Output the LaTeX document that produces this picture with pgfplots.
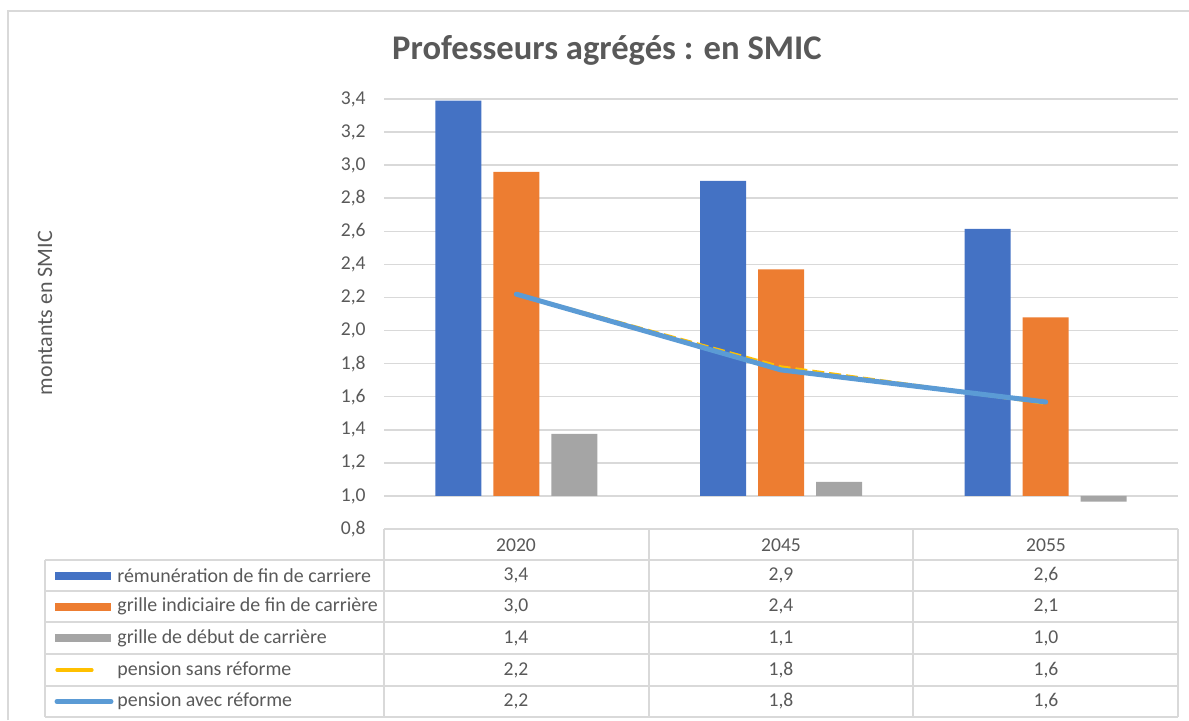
\documentclass[border=0pt]{standalone}
\usepackage{fontspec}
\setmainfont{Carlito}
\usepackage{pgfplots}
\usepackage{pgfplotstable}
\pgfplotsset{compat=1.18}
\definecolor{cblue}{HTML}{4472C4}
\definecolor{corange}{HTML}{ED7D31}
\definecolor{cgray}{HTML}{A5A5A5}
\definecolor{cyellow}{HTML}{FFC000}
\definecolor{clblue}{HTML}{5B9BD5}
\definecolor{txt}{HTML}{595959}
\definecolor{gridc}{HTML}{D9D9D9}

% values in SMIC, years 2020 / 2045 / 2055
\pgfplotstableread{
x rem grille debut sans avec
0 3.39 2.96 1.375 2.22 2.22
1 2.905 2.37 1.085 1.78 1.762
2 2.614 2.08 0.966 1.56 1.568
}\data

\newcommand\cell[2]{\pgfplotstablegetelem{#1}{#2}\of\data\pgfmathprintnumber[fixed,precision=1,fixed zerofill,use comma,assume math mode=true]{\pgfplotsretval}}
\newcommand\tfont{\fontsize{9.8}{12}\selectfont}
\newcommand\lfont{\fontsize{9.95}{12}\selectfont}

\begin{document}
\begin{tikzpicture}
\begin{axis}[at={(192pt,95.5pt)},anchor=south west,scale only axis,width=397pt,height=215pt,
  xmin=-0.5,xmax=2.5,ymin=-0.2,ymax=2.4,
  y filter/.expression={y-1},
  xtick=\empty,ytick={-0.2,0,0.2,0.4,0.6,0.8,1.0,1.2,1.4,1.6,1.8,2.0,2.2,2.4},
  yticklabel={\pgfmathparse{\tick+1}\pgfmathprintnumber[fixed,precision=1,fixed zerofill,use comma]{\pgfmathresult}},
  /pgf/number format/assume math mode=true,
  yticklabel style={font=\tfont,text=txt,anchor=east,inner sep=0pt,xshift=-9pt},
  major tick length=0pt,
  axis line style={draw=none},
  ymajorgrids,grid style={gridc,line width=0.75pt},
  no markers]
\addplot[ybar,bar width=23pt,bar shift=-29pt,fill=cblue,draw=none] table[x=x,y=rem]{\data};
\addplot[ybar,bar width=23pt,bar shift=0pt,fill=corange,draw=none] table[x=x,y=grille]{\data};
\addplot[ybar,bar width=23pt,bar shift=29pt,fill=cgray,draw=none] table[x=x,y=debut]{\data};
\addplot[cyellow,line width=1.6pt,dash pattern=on 6pt off 2.5pt] table[x=x,y=sans]{\data};
\addplot[clblue,line width=2.5pt,line cap=round,line join=round] table[x=x,y=avec]{\data};
\end{axis}

\begin{scope}[x=0.5pt,y=-0.5pt,yshift=360pt]
\useasboundingbox (0,0) rectangle (1189,720);
\draw[gridc,line width=0.75pt] (8,720) -- (8,11) -- (1189,11);
\node[font=\bfseries\fontsize{17.3}{20}\selectfont,text=txt] at (607,50) {Professeurs agrégés : en SMIC};
\node[rotate=90,font=\fontsize{11}{13}\selectfont,text=txt] at (45,313) {montants en SMIC};
% data table
\begin{scope}[gridc,line width=0.75pt]
\draw (384,529) -- (1178,529);
\foreach \xx in {384,649,913,1178} \draw (\xx,529) -- (\xx,717);
\draw (45,560) -- (45,717);
\foreach \yy in {560,591,622,654,686,717} \draw (45,\yy) -- (1178,\yy);
\end{scope}
\foreach \xx/\yr in {516/2020,781/2045,1046/2055}
  \node[font=\tfont,text=txt] at (\xx,545) {\yr};
\fill[cblue] (55,571.5) rectangle (111,579.5);
\fill[corange] (55,602.5) rectangle (111,610.5);
\fill[cgray] (55,634) rectangle (111,642);
\draw[cyellow,line width=1.6pt,line cap=round] (57,670) -- (92,670);
\draw[clblue,line width=2.5pt,line cap=round] (57,701.5) -- (111,701.5);
\foreach \yy/\lab/\col in {575.5/{rémunération de fin de carriere}/rem,606.5/{grille indiciaire de fin de carrière}/grille,638/{grille de début de carrière}/debut,670/{pension sans réforme}/sans,701.5/{pension avec réforme}/avec}{
  \node[font=\lfont,text=txt,anchor=west,inner sep=0pt] at (117,\yy) {\lab};
  \foreach \xx/\r in {516/0,781/1,1046/2}
    \node[font=\tfont,text=txt] at (\xx,\yy) {\cell{\r}{\col}};
}
\end{scope}
\end{tikzpicture}
\end{document}
